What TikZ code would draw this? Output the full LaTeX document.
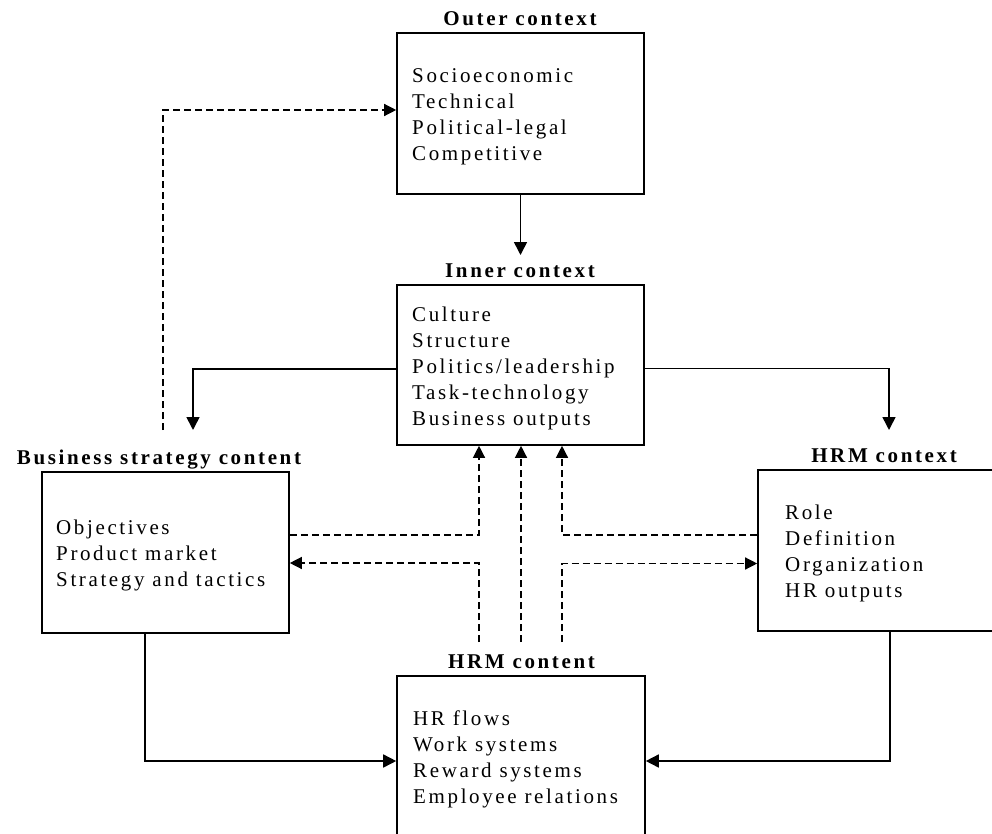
\documentclass[tikz,border=0pt]{standalone}
\usepackage{fontspec}
\setmainfont{Liberation Serif}[LetterSpace=12.5]
\usetikzlibrary{arrows.meta}
\begin{document}
\begin{tikzpicture}[x=1pt,y=-1pt,
  font=\fontsize{21}{26}\selectfont,
  box/.style={draw, line width=1.6pt, inner sep=0pt},
  body/.style={anchor=west, align=left, inner sep=0pt},
  ttl/.style={anchor=base, inner sep=0pt, font=\fontsize{21}{26}\selectfont\bfseries},
  arr/.style={line width=1.6pt, -{Triangle[length=13pt,width=13pt]}},
  darr/.style={line width=1.3pt, dash pattern=on 7pt off 4pt, -{Triangle[length=12pt,width=12pt]}}]
\useasboundingbox (0,0) rectangle (992,834);
\clip (0,0) rectangle (992,834);
% boxes
\node[box, minimum width=247pt, minimum height=161pt] (outerbox) at (520.5,113.5) {};
\node[box, minimum width=247pt, minimum height=160pt] (innerbox) at (520.5,365) {};
\node[box, minimum width=247pt, minimum height=161pt] (bsbox) at (165.5,552.5) {};
\node[box, minimum width=264pt, minimum height=161pt] (hrmctxbox) at (890,550.5) {};
\node[box, minimum width=248pt, minimum height=161pt] (hrmconbox) at (521,756.5) {};
% titles
\node[ttl] (outertitle) at (520,25.5) {Outer context};
\node[ttl] (innertitle) at (520,277.5) {Inner context};
\node[ttl] (bstitle) at (159,464.5) {Business strategy content};
\node[ttl] (hrmctxtitle) at (884,462.5) {HRM context};
\node[ttl] (hrmcontitle) at (521.5,668.5) {HRM content};
% texts
\node[body] (outertext) at (412,117) {Socioeconomic\\Technical\\Political-legal\\Competitive};
\node[body] (innertext) at (412,368.5) {Culture\\Structure\\Politics/leadership\\Task-technology\\Business outputs};
\node[body] (bstext) at (56,555) {Objectives\\Product market\\Strategy and tactics};
\node[body] (hrmctxtext) at (785,553) {Role\\Definition\\Organization\\HR outputs};
\node[body] (hrmcontext) at (413,759) {HR flows\\Work systems\\Reward systems\\Employee relations};
% coordinates
\coordinate (tipA) at (520.5,255);
\coordinate (cB) at (193,369);
\coordinate (tipB) at (193,430);
\coordinate (cC) at (889,368.5);
\coordinate (tipC) at (889,430);
\coordinate (sD) at (163,430);
\coordinate (cD) at (163,110);
\coordinate (cE) at (479,535);
\coordinate (sF) at (479,642);
\coordinate (cF) at (479,563);
\coordinate (sG) at (521,642);
\coordinate (cH) at (562,535);
\coordinate (sI) at (562,642);
\coordinate (cI) at (562,563.5);
\coordinate (cJ) at (145,761);
\coordinate (cK) at (890,761);
% solid connectors
\draw[arr] (outerbox.south -| tipA) -- (tipA);
\draw[arr] (innerbox.west |- cB) -- (cB) -- (tipB);
\draw[arr] (innerbox.east |- cC) -- (cC) -- (tipC);
\draw[arr] (bsbox.south -| cJ) -- (cJ) -- (hrmconbox.west |- cJ);
\draw[arr] (hrmctxbox.south -| cK) -- (cK) -- (hrmconbox.east |- cK);
% dashed connectors
\draw[darr] (sD) -- (cD) -- (outerbox.west |- cD);
\draw[darr] (bsbox.east |- cE) -- (cE) -- (innerbox.south -| cE);
\draw[darr] (sF) -- (cF) -- (bsbox.east |- cF);
\draw[darr] (sG) -- (innerbox.south -| sG);
\draw[darr] (hrmctxbox.west |- cH) -- (cH) -- (innerbox.south -| cH);
\draw[darr] (sI) -- (cI) -- (hrmctxbox.west |- cI);
\end{tikzpicture}
\end{document}
